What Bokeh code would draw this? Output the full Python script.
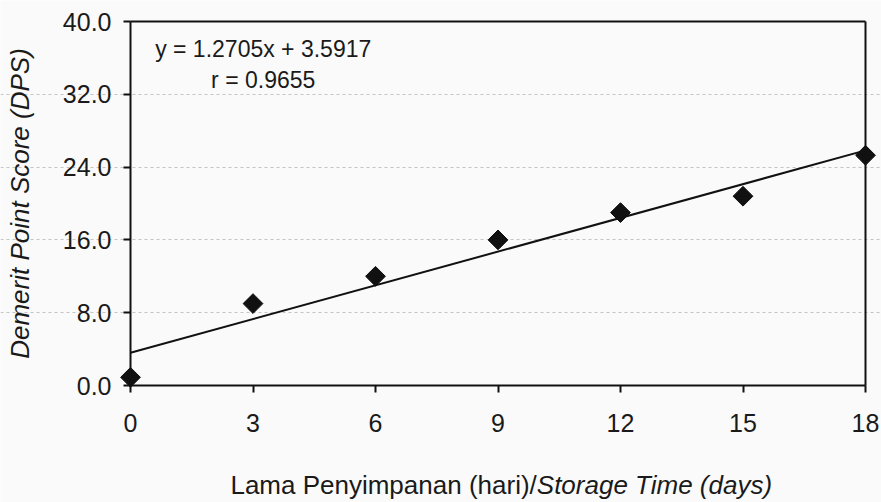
import numpy as np
from bokeh.plotting import figure
from bokeh.models import (Range1d, FixedTicker, PrintfTickFormatter, LinearAxis,
                          Label, ColumnDataSource)
from bokeh.embed import file_html
from bokeh.resources import INLINE

# ---- data ----
storage_days = [0, 3, 6, 9, 12, 15, 18]
dps_values = [0.9, 9.0, 12.0, 16.0, 19.0, 20.8, 25.3]
x_ticks = [0, 3, 6, 9, 12, 15, 18]
y_ticks = [0, 8, 16, 24, 32, 40]
equation_text = "y = 1.2705x + 3.5917"
r_text = "r = 0.9655"
x_title_plain = "Lama Penyimpanan (hari)/"
x_title_italic = "Storage Time (days)"
y_title = "Demerit Point Score (DPS)"

FONT = "Liberation Sans"
TXT = "#1a1a1a"
LINE = "#111111"
BG = "#fafafa"

# frame covers the whole canvas; axes are pinned at data locations
W, H = 881, 502
X0_PX, X18_PX = 130, 865
Y0_PX, Y40_PX = 385, 21
ppx = (X18_PX - X0_PX) / 18.0
ppy = (Y0_PX - Y40_PX) / 40.0
x_start, x_end = -X0_PX / ppx, (W - X0_PX) / ppx
y_start, y_end = -(H - Y0_PX) / ppy, Y0_PX / ppy

p = figure(width=W, height=H, output_backend="svg", toolbar_location=None,
           x_range=Range1d(x_start, x_end), y_range=Range1d(y_start, y_end),
           min_border_left=0, min_border_right=0, min_border_top=0,
           min_border_bottom=0, background_fill_color=BG, border_fill_color=BG,
           outline_line_color=None)

# trend line fitted to the data
slope, intercept = np.polyfit(storage_days, dps_values, 1)
fit_x = [storage_days[0], storage_days[-1]]
fit_y = [intercept + slope * v for v in fit_x]

# bottom axis
xa = p.xaxis[0]
xa.fixed_location = 0
xa.bounds = (0, 18)
xa.ticker = FixedTicker(ticks=x_ticks)
xa.minor_tick_line_color = None
xa.major_tick_in = 0
xa.major_tick_out = 7
xa.axis_line_width = 2
xa.major_tick_line_width = 2
xa.axis_line_color = LINE
xa.major_tick_line_color = LINE
xa.major_label_text_font = FONT
xa.major_label_text_font_size = "25px"
xa.major_label_text_color = TXT
xa.major_label_standoff = 21

# left axis
ya = p.yaxis[0]
ya.fixed_location = 0
ya.bounds = (0, 40)
ya.ticker = FixedTicker(ticks=y_ticks)
ya.formatter = PrintfTickFormatter(format="%.1f")
ya.minor_tick_line_color = None
ya.major_tick_in = 0
ya.major_tick_out = 7
ya.axis_line_width = 2
ya.major_tick_line_width = 2
ya.axis_line_color = LINE
ya.major_tick_line_color = LINE
ya.major_label_text_font = FONT
ya.major_label_text_font_size = "25px"
ya.major_label_text_color = TXT
ya.major_label_standoff = 12
ya.axis_label = y_title
ya.axis_label_text_font = FONT
ya.axis_label_text_font_size = "26px"
ya.axis_label_text_font_style = "italic"
ya.axis_label_text_color = TXT
ya.axis_label_standoff = 25

# top and right frame lines
top = LinearAxis(fixed_location=40, bounds=(0, 18), ticker=FixedTicker(ticks=[]),
                 major_label_text_font_size="0px", axis_line_width=2,
                 axis_line_color=LINE, major_tick_line_color=None,
                 minor_tick_line_color=None)
p.add_layout(top, "above")
right = LinearAxis(fixed_location=18, bounds=(0, 40), ticker=FixedTicker(ticks=[]),
                   major_label_text_font_size="0px", axis_line_width=2,
                   axis_line_color=LINE, major_tick_line_color=None,
                   minor_tick_line_color=None)
p.add_layout(right, "right")

# grid
p.xgrid.grid_line_color = None
p.ygrid.ticker = FixedTicker(ticks=[8, 16, 24, 32])
p.ygrid.bounds = (0, 18)
p.ygrid.grid_line_color = "#c4c4c4"
p.ygrid.grid_line_dash = "3 3"
p.ygrid.grid_line_width = 1

p.line(fit_x, fit_y, line_color=LINE, line_width=2)

src = ColumnDataSource(dict(x=storage_days, y=dps_values))
p.scatter("x", "y", source=src, marker="square", angle=np.pi / 4, size=14,
          fill_color=LINE, line_color=LINE)

# equation text
p.add_layout(Label(x=3.25, y=36.95, text=equation_text, text_align="center",
                   text_baseline="alphabetic", text_font=FONT, text_font_size="23px",
                   text_color=TXT))
p.add_layout(Label(x=3.25, y=33.55, text=r_text, text_align="center",
                   text_baseline="alphabetic", text_font=FONT, text_font_size="23px",
                   text_color=TXT))

# x-axis title (mixed styles)
p.add_layout(Label(x=9.95, y=-10.95, text=x_title_plain, text_align="right",
                   text_baseline="alphabetic", text_font=FONT, text_font_size="26px",
                   text_color=TXT))
p.add_layout(Label(x=9.95, y=-10.95, text=x_title_italic, text_align="left",
                   text_baseline="alphabetic", text_font=FONT, text_font_size="26px",
                   text_font_style="italic", text_color=TXT))

open("out.html", "w").write(file_html(p, INLINE))
